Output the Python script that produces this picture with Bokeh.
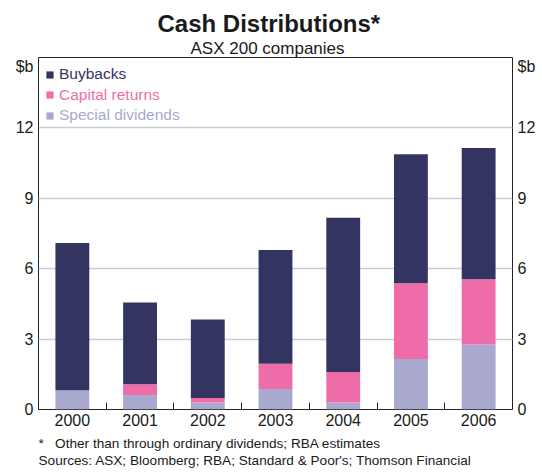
import numpy as np
from bokeh.plotting import figure
from bokeh.models import (ColumnDataSource, Range1d, FixedTicker, LinearAxis,
                          Legend, LegendItem, Title)
from bokeh.embed import file_html
from bokeh.resources import INLINE

# ---- data ($b) ----
years = ["2000", "2001", "2002", "2003", "2004", "2005", "2006"]
special_dividends = [0.82, 0.62, 0.30, 0.87, 0.30, 2.15, 2.77]
capital_returns = [0.00, 0.46, 0.19, 1.08, 1.30, 3.23, 2.78]
buybacks = [6.28, 3.48, 3.34, 4.85, 6.57, 5.50, 5.59]
y_ticks = [0, 3, 6, 9, 12]

FONT = "Liberation Sans"
C_BUY = "#343463"
C_CAP = "#EE6DA9"
C_SPE = "#A9A8CF"
GRID = "#C9CED3"

centers = [i + 0.5 for i in range(len(years))]
source = ColumnDataSource(dict(x=centers, special=special_dividends,
                               capital=capital_returns, buybacks=buybacks))

p = figure(width=542, height=472, output_backend="svg", toolbar_location=None,
           x_range=Range1d(0, len(years)), y_range=Range1d(0, 15),
           min_border_left=38, min_border_right=30, min_border_top=57,
           min_border_bottom=4)
p.outline_line_color = "#222222"
p.outline_line_width = 1
p.background_fill_color = "white"
p.border_fill_color = "white"

renderers = p.vbar_stack(["special", "capital", "buybacks"], x="x", width=0.5,
                         color=[C_SPE, C_CAP, C_BUY], line_color=None,
                         source=source)

# grid
p.xgrid.visible = False
p.ygrid.ticker = FixedTicker(ticks=y_ticks[1:])
p.ygrid.grid_line_color = GRID
p.ygrid.grid_line_width = 1.5

# x axis
xa = p.xaxis[0]
xa.ticker = FixedTicker(ticks=centers, minor_ticks=list(range(1, len(years))))
xa.major_label_overrides = {c: y for c, y in zip(centers, years)}
xa.major_tick_in = 0
xa.major_tick_out = 0
xa.minor_tick_in = 7
xa.minor_tick_out = 0
xa.minor_tick_line_color = "#222222"
xa.axis_line_color = None
xa.major_label_text_font = FONT
xa.major_label_text_font_size = "16px"
xa.major_label_text_color = "#1a1a1a"
xa.major_label_standoff = 4

# y axes with "$b" unit label at top
unit_pos = 14.6
yt = FixedTicker(ticks=y_ticks + [unit_pos])
overrides = {unit_pos: "$b"}
ya = p.yaxis[0]
ra = LinearAxis()
p.add_layout(ra, "right")
for ax in (ya, ra):
    ax.ticker = yt
    ax.major_label_overrides = overrides
    ax.major_tick_in = 0
    ax.major_tick_out = 0
    ax.minor_tick_in = 0
    ax.minor_tick_out = 0
    ax.axis_line_color = None
    ax.major_label_text_font = FONT
    ax.major_label_text_font_size = "16px"
    ax.major_label_text_color = "#1a1a1a"
    ax.major_label_standoff = 5

# legends (one per series so that each label has its own colour)
labels = ["Buybacks", "Capital returns", "Special dividends"]
rend_for = [renderers[2], renderers[1], renderers[0]]
cols = [C_BUY, C_CAP, C_SPE]
for k, (lab, r, c) in enumerate(zip(labels, rend_for, cols)):
    lg = Legend(items=[LegendItem(label=lab, renderers=[r])],
                location=(7, 326 - 20.5 * k),
                glyph_width=9, glyph_height=9, label_height=16,
                label_standoff=5, padding=0, margin=0, spacing=0,
                border_line_color=None, background_fill_alpha=0,
                label_text_font=FONT, label_text_font_size="15.5px",
                label_text_color=c)
    p.add_layout(lg, "center")

# titles: first added is nearest to the frame
p.add_layout(Title(text="ASX 200 companies", align="left", offset=152,
                   text_font=FONT, text_font_size="17px",
                   text_font_style="normal", text_color="#1a1a1a",
                   standoff=0), "above")
p.add_layout(Title(text="Cash Distributions*", align="left", offset=119,
                   text_font=FONT, text_font_size="24px",
                   text_font_style="bold", text_color="#1a1a1a",
                   standoff=0), "above")

# footnotes
footnote = ("*\u00a0\u00a0\u00a0Other than through ordinary dividends; RBA estimates\n"
            "Sources: ASX; Bloomberg; RBA; Standard & Poor's; Thomson Financial")
p.add_layout(Title(text=footnote, align="left", text_font=FONT,
                   text_font_size="13.6px", text_font_style="normal",
                   text_color="#1a1a1a", text_line_height=1.1,
                   standoff=10), "below")

open("out.html", "w").write(file_html(p, INLINE))
